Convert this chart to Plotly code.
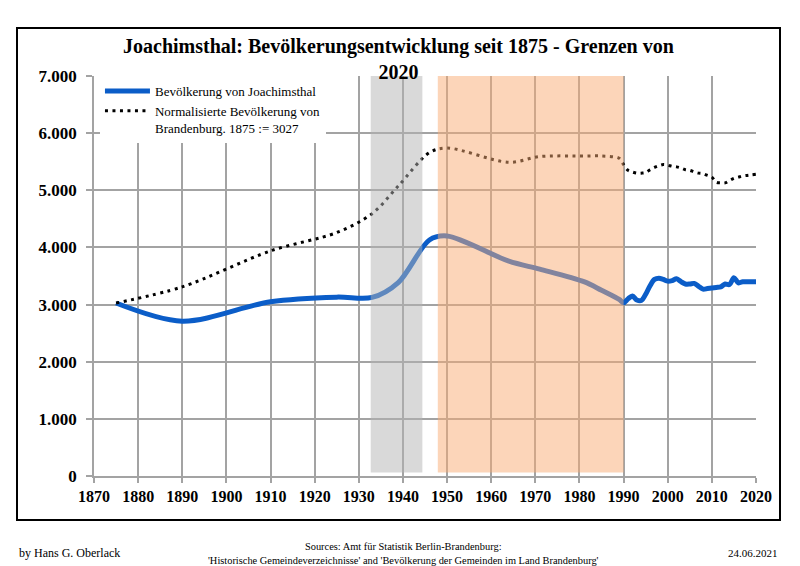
import plotly.graph_objects as go

# Joachimsthal population
years_pop = [1875, 1890, 1910, 1925, 1933, 1939, 1946, 1950, 1964, 1971, 1981, 1985, 1989,
             1990, 1991, 1992, 1993, 1994, 1995, 1996, 1997, 1998, 1999, 2000, 2001, 2002,
             2003, 2004, 2005, 2006, 2007, 2008, 2009, 2010, 2011, 2012, 2013, 2014, 2015,
             2016, 2017, 2018, 2019, 2020]
pop = [3027, 2710, 3050, 3130, 3125, 3390, 4130, 4200, 3760, 3620, 3400, 3250, 3090,
       3030, 3100, 3150, 3080, 3070, 3180, 3330, 3440, 3460, 3440, 3410, 3420, 3450,
       3400, 3360, 3360, 3370, 3320, 3270, 3280, 3290, 3300, 3310, 3360, 3350, 3470,
       3380, 3400, 3400, 3400, 3400]

# Normalised Brandenburg population (1875 := 3027)
years_bb = years_pop
bb = [3027, 3310, 3940, 4260, 4590, 5080, 5660, 5740, 5490, 5590, 5600, 5600, 5560,
      5450, 5350, 5320, 5300, 5300, 5310, 5360, 5400, 5430, 5450, 5440, 5420, 5410,
      5390, 5360, 5350, 5320, 5300, 5290, 5260, 5230, 5140, 5130, 5130, 5170, 5210,
      5230, 5250, 5260, 5270, 5280]

x_ticks = list(range(1870, 2021, 10))
y_ticks = list(range(0, 7001, 1000))
y_tick_text = ["0", "1.000", "2.000", "3.000", "4.000", "5.000", "6.000", "7.000"]

# shaded periods
nazi_period = (1932.7, 1944.4)
gdr_period = (1947.9, 1990.0)

SERIF = "Liberation Serif"

fig = go.Figure()
fig.add_trace(go.Scatter(
    x=years_pop, y=pop, mode="lines", name="Bevölkerung von Joachimsthal",
    line=dict(color="#0B5DC8", width=5, shape="spline", smoothing=0.9),
))
fig.add_trace(go.Scatter(
    x=years_bb, y=bb, mode="lines",
    name="Normalisierte Bevölkerung von<br>Brandenburg. 1875 := 3027",
    line=dict(color="#000000", width=3, dash="3px,4.5px", shape="spline", smoothing=0.9),
))

fig.add_shape(type="rect", xref="x", yref="y", x0=nazi_period[0], x1=nazi_period[1],
              y0=60, y1=7000, fillcolor="rgb(179,179,179)", opacity=0.5,
              line=dict(width=0), layer="above")
fig.add_shape(type="rect", xref="x", yref="y", x0=gdr_period[0], x1=gdr_period[1],
              y0=60, y1=7050, fillcolor="rgb(249,171,115)", opacity=0.5,
              line=dict(width=0), layer="above")

# page coords -> paper coords (plot area spans x 94..756, y 76..476 on the page)
def px(x):
    return (x - 94) / 662

def py(y):
    return (476 - y) / 400

# outer frame
fig.add_shape(type="rect", xref="paper", yref="paper",
              x0=px(17), x1=px(780), y0=py(520), y1=py(28),
              line=dict(color="black", width=2), fillcolor="rgba(0,0,0,0)", layer="below")

fig.add_annotation(xref="paper", yref="paper", x=px(398), y=py(59),
                   text="<b>Joachimsthal: Bevölkerungsentwicklung seit 1875 - Grenzen von<br>2020</b>",
                   showarrow=False, xanchor="center", yanchor="middle",
                   font=dict(family=SERIF, size=20, color="black"))

fig.add_annotation(xref="paper", yref="paper", x=px(17), y=py(553),
                   text="by Hans G. Oberlack", showarrow=False, xanchor="left", yanchor="middle",
                   font=dict(family=SERIF, size=12, color="black"))
fig.add_annotation(xref="paper", yref="paper", x=px(780), y=py(553),
                   text="24.06.2021", showarrow=False, xanchor="right", yanchor="middle",
                   font=dict(family=SERIF, size=11, color="black"))
fig.add_annotation(xref="paper", yref="paper", x=px(403), y=py(553),
                   text="Sources: Amt für Statistik Berlin-Brandenburg:<br>'Historische Gemeindeverzeichnisse' and 'Bevölkerung der Gemeinden im Land Brandenburg'",
                   showarrow=False, xanchor="center", yanchor="middle",
                   font=dict(family=SERIF, size=10.4, color="black"))

# the page body has an 8px margin, so the figure is 8px smaller and margins shifted by 8
fig.update_layout(
    width=792, height=558,
    margin=dict(l=86, r=44, t=68, b=90),
    paper_bgcolor="white", plot_bgcolor="white",
    showlegend=True,
    legend=dict(x=0.009, y=1.0, xanchor="left", yanchor="top", bgcolor="white",
                font=dict(family=SERIF, size=13, color="black"), valign="top",
                itemwidth=45, tracegroupgap=8),
    xaxis=dict(range=[1870, 2020], tickvals=x_ticks, showgrid=True, gridcolor="#A3A3A3",
               gridwidth=1.5, ticks="outside", ticklen=5, tickcolor="#A3A3A3", tickwidth=1.5,
               showline=True, linecolor="#A3A3A3", linewidth=1.5, mirror=False,
               tickfont=dict(family=SERIF, size=16, color="black", weight="bold"),
               zeroline=False),
    yaxis=dict(range=[0, 7000], tickvals=y_ticks, ticktext=y_tick_text, showgrid=True,
               gridcolor="#A3A3A3", gridwidth=1.5, ticks="outside", ticklen=6,
               tickcolor="#A3A3A3", tickwidth=1.5, showline=True, linecolor="#A3A3A3",
               linewidth=1.5, zeroline=False, ticklabelstandoff=6,
               tickfont=dict(family=SERIF, size=17, color="black", weight="bold")),
)

fig.write_html("out.html")
